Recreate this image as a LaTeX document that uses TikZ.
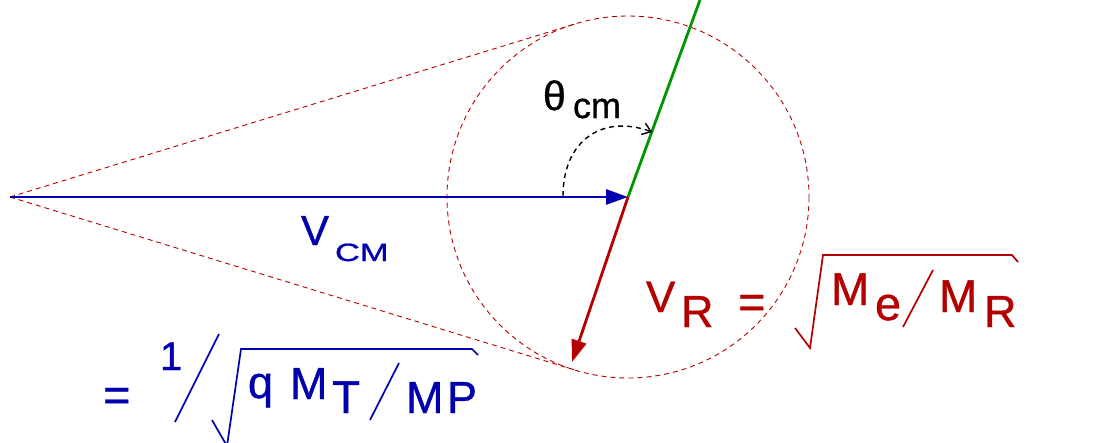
\documentclass[tikz,border=0pt]{standalone}
\usepackage{fontspec}
\setmainfont{Liberation Sans}[FakeBold=0.8]
\usetikzlibrary{arrows.meta}
\definecolor{vblue}{RGB}{0,0,175}
\definecolor{vred}{RGB}{180,0,0}
\definecolor{vgreen}{RGB}{0,150,0}
\newcommand{\fs}[1]{\fontsize{#1}{#1}\selectfont}
\begin{document}
\begin{tikzpicture}[x=1pt,y=-1pt,
  lbl/.style={anchor=base west, inner sep=0pt, outer sep=0pt},
  guide/.style={vred, line width=0.9pt, dash pattern=on 5pt off 4pt},
  vec/.style={line width=2.8pt},
  stroke/.style={line width=1.7pt, line join=miter}]
\path[use as bounding box, fill=white] (0,0) rectangle (1108,442);
% key points
\coordinate (O) at (10,197);
\coordinate (C) at (628,197);
\coordinate (T1) at (575,24);
\coordinate (T2) at (575,370);
\coordinate (G) at (700,0);
\coordinate (Rt) at (572,362);
\coordinate (A0) at (563,196);
\coordinate (A1) at (652,132);
% guide circle and tangents
\draw[guide] (C) circle[radius=181];
\draw[guide] (O) -- (T1);
\draw[guide] (O) -- (T2);
% vectors
\draw[vgreen, vec] (C) -- (G);
\draw[vblue, vec, -{Triangle[length=22pt,width=15pt]}] (O) -- (C);
\draw[vred, vec, -{Triangle[length=22pt,width=15pt]}] (C) -- (Rt);
% angle arc
\draw[black, line width=1.4pt, dash pattern=on 5pt off 4pt, -{Straight Barb[length=8pt,width=12pt]}]
  (A0) .. controls (563,140) and (603,114) .. (A1);
% theta label
\node[lbl] (th) at (543,110) {\fs{41}θ};
\node[lbl] (thcm) at (573,118) {\fs{36}cm};
% V_CM label
\node[lbl, text=vblue] (vcm) at (301,245) {\fs{42}V};
\node[lbl, text=vblue] (vcmsub) at (335,261) {\scalebox{1.38}[1]{\fs{25}CM}};
% V_R formula
\begin{scope}[vred]
\node[lbl] (vr) at (646,312) {\fs{44}V};
\node[lbl] (vrsub) at (681,327) {\fs{45}R};
\node[lbl] (vreq) at (738,318) {\fs{47}=};
\coordinate (r1) at (795,328);
\coordinate (r2) at (810,348);
\coordinate (r3) at (823,255);
\coordinate (r4) at (1012,255);
\coordinate (r5) at (1018,262);
\draw[stroke] (r1) -- (r2) -- (r3) -- (r4) -- (r5);
\node[lbl] (me) at (831,305) {\fs{46}M};
\node[lbl] (mesub) at (875,320) {\fs{47}e};
\coordinate (s1) at (903,327);
\coordinate (s2) at (933,270);
\draw[stroke] (s1) -- (s2);
\node[lbl] (mr) at (939,312) {\fs{46}M};
\node[lbl] (mrsub) at (984,327) {\fs{45}R};
\end{scope}
% bottom formula
\begin{scope}[vblue]
\node[lbl] (beq) at (103,411) {\fs{47}=};
\node[lbl] (one) at (160,370) {\fs{40}1};
\coordinate (b1) at (175,422);
\coordinate (b2) at (219,334);
\draw[stroke] (b1) -- (b2);
\coordinate (q1) at (212,420);
\coordinate (q2) at (227,446);
\coordinate (q3) at (241,349);
\coordinate (q4) at (472,349);
\coordinate (q5) at (478,355);
\draw[stroke] (q1) -- (q2) -- (q3) -- (q4) -- (q5);
\node[lbl] (qq) at (248,398) {\fs{45}q};
\node[lbl] (mt) at (290,399) {\fs{45}M};
\node[lbl] (mtsub) at (332,413) {\fs{46}T};
\coordinate (c1) at (370,420);
\coordinate (c2) at (399,363);
\draw[stroke] (c1) -- (c2);
\node[lbl] (mp) at (406,413) {\fs{45}M};
\node[lbl] (mpsub) at (447,413) {\fs{45}P};
\end{scope}
\end{tikzpicture}
\end{document}
